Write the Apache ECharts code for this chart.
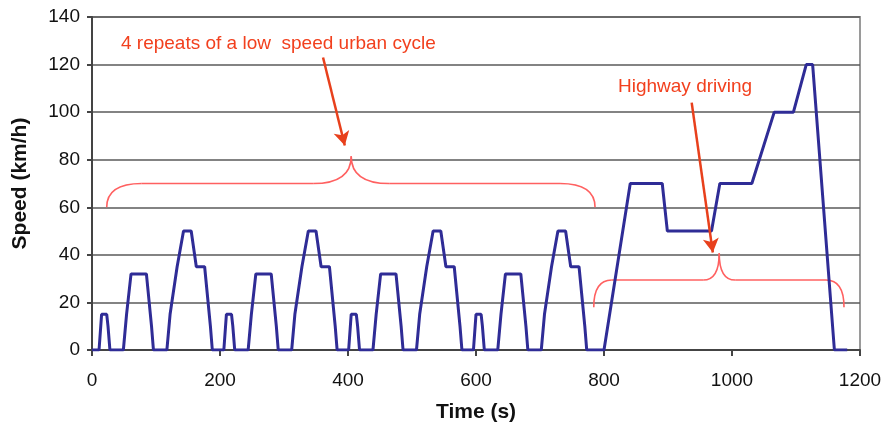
<!DOCTYPE html>
<html>
<head>
<meta charset="utf-8">
<script src="https://cdn.jsdelivr.net/npm/echarts@6/dist/echarts.min.js"></script>
<style>
html, body { margin: 0; padding: 0; background: #fff; }
#main { width: 884px; height: 426px; }
</style>
</head>
<body>
<div id="main"></div>
<script>
// one low speed urban cycle (time s, speed km/h), repeated 4 times
var urbanTime  = [0, 11, 15, 23, 25, 28, 49, 54, 56, 61, 85, 93, 96, 117, 122, 124, 133, 135, 143, 155, 163, 176, 178, 185, 188, 195];
var urbanSpeed = [0, 0, 15, 15, 10, 0, 0, 15, 15, 32, 32, 10, 0, 0, 15, 15, 35, 35, 50, 50, 35, 35, 35, 10, 0, 0];
var urbanStarts = [0, 195, 390, 585];

// highway part
var highwayTime  = [780, 800, 841, 891, 899, 968, 981, 1031, 1066, 1096, 1116, 1126, 1160, 1180];
var highwaySpeed = [0, 0, 70, 70, 50, 50, 70, 70, 100, 100, 120, 120, 0, 0];

var red = '#f2401e';
var braceRed = '#ff6060';
var font = 'Liberation Sans, Arial, sans-serif';

var points = [];
urbanStarts.forEach(function (s) {
	for (var i = 0; i < urbanTime.length; i++) {
		points.push([s + urbanTime[i], urbanSpeed[i]]);
	}
});
for (var j = 0; j < highwayTime.length; j++) {
	points.push([highwayTime[j], highwaySpeed[j]]);
}

var myChart = echarts.init(document.getElementById('main'));
var option = {
	animation: false,
	grid: {
		left: 92, right: 24, top: 17, bottom: 76,
		outerBoundsMode: 'none',
		show: true, borderColor: '#9a9a9a', borderWidth: 2
	},
	xAxis: {
		type: 'value',
		min: 0, max: 1200, interval: 200,
		name: 'Time (s)',
		nameLocation: 'middle',
		nameGap: 52,
		nameTextStyle: { fontFamily: font, fontSize: 21, fontWeight: 'bold', color: '#111' },
		axisLine: { lineStyle: { color: '#444', width: 2 } },
		axisTick: { show: true, length: 6, lineStyle: { color: '#444', width: 2 } },
		axisLabel: { fontFamily: font, fontSize: 19, color: '#111', margin: 21, formatter: function (v) { return String(v); } },
		splitLine: { show: false }
	},
	yAxis: {
		type: 'value',
		min: 0, max: 140, interval: 20,
		name: 'Speed (km/h)',
		nameLocation: 'middle',
		nameGap: 61,
		nameRotate: 90,
		nameTextStyle: { fontFamily: font, fontSize: 21, fontWeight: 'bold', color: '#111' },
		axisLine: { show: true, lineStyle: { color: '#444', width: 2 } },
		axisTick: { show: true, length: 5, lineStyle: { color: '#444', width: 2 } },
		axisLabel: { fontFamily: font, fontSize: 19, color: '#111', margin: 12 },
		splitLine: { show: true, lineStyle: { color: '#5a5a5a', width: 1.5 } }
	},
	series: [{
		type: 'line',
		data: points,
		showSymbol: false,
		lineStyle: { color: '#2f2c96', width: 3 },
		markLine: {
			silent: true,
			symbol: ['none', 'arrow'],
			symbolSize: [12, 14],
			label: { show: false },
			lineStyle: { color: '#e8401c', width: 2.5, type: 'solid' },
			data: [
				[{ coord: [361, 123] }, { coord: [395, 86] }],
				[{ coord: [937, 104] }, { coord: [970, 41] }]
			]
		}
	}]
};
myChart.setOption(option);

// curly brace pieces, positions from data coords
function brace(x0, x1, xp, yEnd, yFlat, yPeak, rEnd, rPeak) {
	var a = myChart.convertToPixel({ gridIndex: 0 }, [x0, yEnd]);
	var b = myChart.convertToPixel({ gridIndex: 0 }, [x1, yEnd]);
	var p = myChart.convertToPixel({ gridIndex: 0 }, [xp, yPeak]);
	var h = myChart.convertToPixel({ gridIndex: 0 }, [xp, yFlat])[1];
	var st = { stroke: braceRed, lineWidth: 1.6, fill: null };
	return [
		{ type: 'bezierCurve', shape: { x1: a[0], y1: a[1], cpx1: a[0], cpy1: h, x2: a[0] + rEnd, y2: h }, style: st },
		{ type: 'line', shape: { x1: a[0] + rEnd, y1: h, x2: p[0] - rPeak, y2: h }, style: st },
		{ type: 'bezierCurve', shape: { x1: p[0] - rPeak, y1: h, cpx1: p[0], cpy1: h, x2: p[0], y2: p[1] }, style: st },
		{ type: 'bezierCurve', shape: { x1: p[0], y1: p[1], cpx1: p[0], cpy1: h, x2: p[0] + rPeak, y2: h }, style: st },
		{ type: 'line', shape: { x1: p[0] + rPeak, y1: h, x2: b[0] - rEnd, y2: h }, style: st },
		{ type: 'bezierCurve', shape: { x1: b[0] - rEnd, y1: h, cpx1: b[0], cpy1: h, x2: b[0], y2: b[1] }, style: st }
	];
}

var graphics = []
	.concat(brace(23, 786, 405, 60, 70, 81.5, 35, 38))
	.concat(brace(784, 1175, 980, 18, 29.4, 40.7, 18, 16));
graphics.push({
	type: 'text', left: 121, top: 34,
	style: { text: '4 repeats of a low  speed urban cycle', fill: red, font: '19px ' + font }
});
graphics.push({
	type: 'text', left: 618, top: 77,
	style: { text: 'Highway driving', fill: red, font: '19px ' + font }
});
myChart.setOption({ graphic: graphics });
</script>
</body>
</html>
